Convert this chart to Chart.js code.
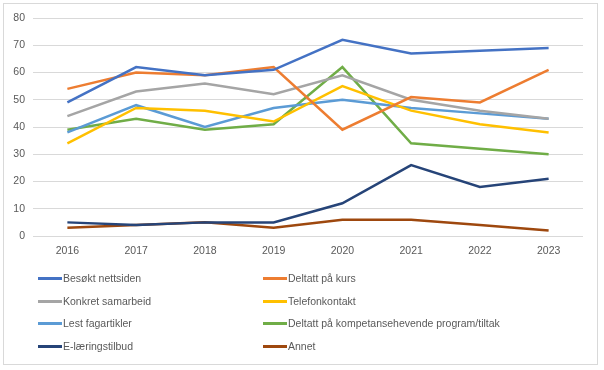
<!DOCTYPE html>
<html>
<head>
<meta charset="utf-8">
<script src="https://cdn.jsdelivr.net/npm/chart.js@4"></script>
<style>
  body { margin: 0; background: #fff; }
  #wrap { position: relative; width: 604px; height: 370px; }
  #frame { position: absolute; left: 3px; top: 3px; width: 593px; height: 360px; border: 1px solid #D9D9D9; }
  #chartBox { position: absolute; left: 0; top: 0; width: 604px; height: 262px; }
  #legend { position: absolute; left: 0; top: 0; width: 604px; height: 370px;
            font-family: "Liberation Sans", sans-serif; font-size: 10.5px; color: #595959; }
  .item { position: absolute; height: 14px; line-height: 14px; white-space: nowrap; }
  .item span.sw { position: absolute; left: 0; top: 6px; width: 24px; height: 3px; }
  .item span.tx { position: absolute; left: 25px; top: 0; }
</style>
</head>
<body>
<div id="wrap">
  <div id="frame"></div>
  <div id="chartBox"><canvas id="chartCanvas"></canvas></div>
  <div id="legend"></div>
</div>
<script>
var years = ["2016", "2017", "2018", "2019", "2020", "2021", "2022", "2023"];

var seriesNames = [
    "Besøkt nettsiden",
    "Deltatt på kurs",
    "Konkret samarbeid",
    "Telefonkontakt",
    "Lest fagartikler",
    "Deltatt på kompetansehevende program/tiltak",
    "E-læringstilbud",
    "Annet"
];

var besoktNettsiden = [49, 62, 59, 61, 72, 67, 68, 69];
var deltattKurs = [54, 60, 59, 62, 39, 51, 49, 61];
var konkretSamarbeid = [44, 53, 56, 52, 59, 50, 46, 43];
var telefonkontakt = [34, 47, 46, 42, 55, 46, 41, 38];
var lestFagartikler = [38, 48, 40, 47, 50, 47, 45, 43];
var kompetanseProgram = [39, 43, 39, 41, 62, 34, 32, 30];
var eLaering = [5, 4, 5, 5, 12, 26, 18, 21];
var annet = [3, 4, 5, 3, 6, 6, 4, 2];

var seriesColors = ["#4472C4", "#ED7D31", "#A5A5A5", "#FFC000", "#5B9BD5", "#70AD47", "#264478", "#9E480E"];

var allValues = [besoktNettsiden, deltattKurs, konkretSamarbeid, telefonkontakt,
                 lestFagartikler, kompetanseProgram, eLaering, annet];

var datasets = [];
for (var i = 0; i < seriesNames.length; i++) {
    datasets.push({
        label: seriesNames[i],
        data: allValues[i],
        borderColor: seriesColors[i],
        backgroundColor: seriesColors[i],
        borderWidth: 2.5,
        pointRadius: 0,
        tension: 0,
        fill: false
    });
}

// legend: two columns, four rows
var legend = document.getElementById("legend");
var rowY = [271, 294, 316, 339];
var colX = [38, 263];
for (var j = 0; j < seriesNames.length; j++) {
    var it = document.createElement("div");
    it.className = "item";
    it.style.left = colX[j % 2] + "px";
    it.style.top = rowY[Math.floor(j / 2)] + "px";
    it.innerHTML = '<span class="sw" style="background:' + seriesColors[j] + '"></span><span class="tx"></span>';
    it.querySelector(".tx").textContent = seriesNames[j];
    legend.appendChild(it);
}

Chart.defaults.font.family = '"Liberation Sans", sans-serif';
Chart.defaults.font.size = 10.5;
Chart.defaults.color = "#595959";

var ctx = document.getElementById("chartCanvas");
var lineChart = new Chart(ctx, {
    type: "line",
    data: {
        labels: years,
        datasets: datasets
    },
    options: {
        responsive: true,
        maintainAspectRatio: false,
        animation: false,
        layout: { padding: { top: 18, right: 21, left: 0, bottom: 0 } },
        plugins: {
            legend: { display: false },
            tooltip: { enabled: false }
        },
        scales: {
            x: {
                offset: true,
                grid: { display: false, drawTicks: false },
                border: { display: false },
                ticks: { padding: 9 },
                afterFit: function (scale) { scale.height = 26; }
            },
            y: {
                min: 0,
                max: 80,
                ticks: { stepSize: 10, padding: 8 },
                grid: { color: "#D9D9D9", drawTicks: false, lineWidth: 1 },
                border: { display: false },
                afterFit: function (scale) { scale.width = 33; }
            }
        }
    }
});
</script>
</body>
</html>
